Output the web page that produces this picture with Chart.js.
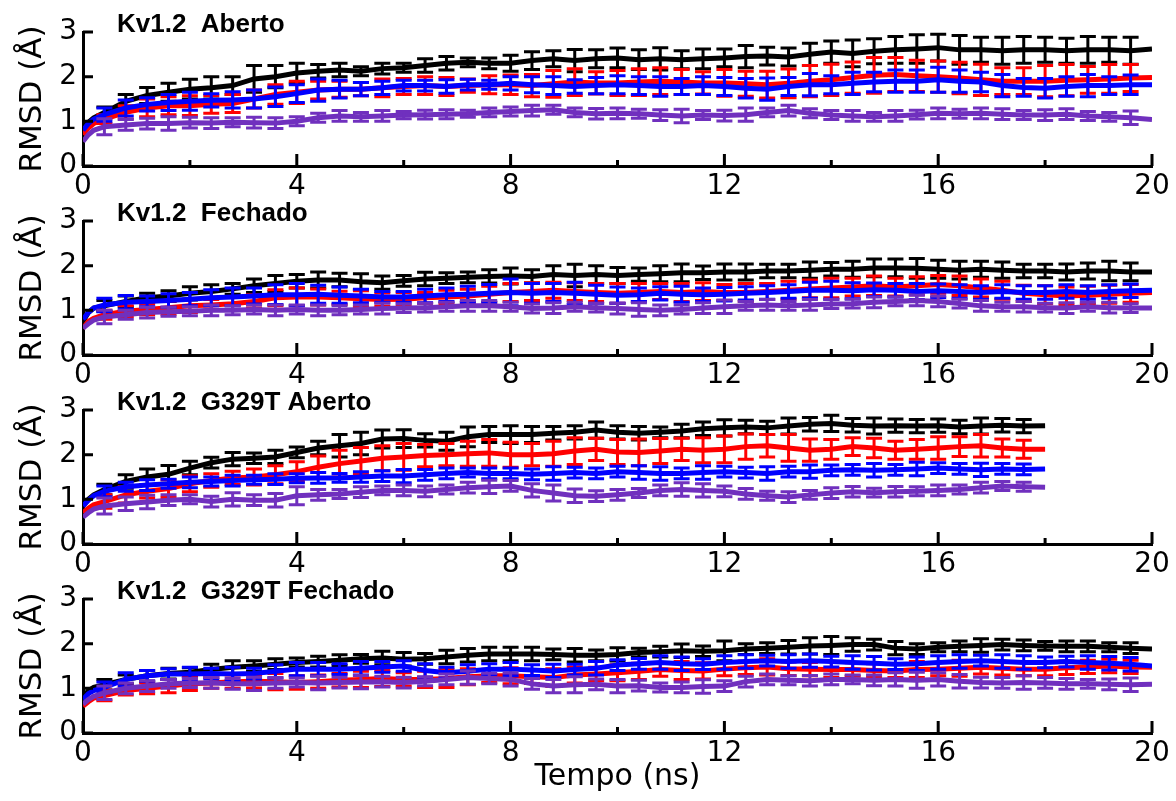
<!DOCTYPE html>
<html>
<head>
<meta charset="utf-8">
<script src="https://cdn.jsdelivr.net/npm/chart.js@4"></script>
<style>
  body { margin: 0; background: #fff; }
  #wrap { position: relative; width: 1176px; height: 801px; overflow: hidden; }
  canvas { position: absolute; left: 0; }
</style>
</head>
<body>
<div id="wrap">
  <canvas id="p1" width="1176" height="210" style="top:0px"></canvas>
  <canvas id="p2" width="1176" height="210" style="top:189px"></canvas>
  <canvas id="p3" width="1176" height="210" style="top:378px"></canvas>
  <canvas id="p4" width="1176" height="234" style="top:567px"></canvas>
</div>
<script>
// time axis (ns): 0, 0.1, 0.2 then every 0.4 ns up to 20
const times = [0, 0.1, 0.2,
  0.4, 0.8, 1.2, 1.6, 2.0, 2.4, 2.8, 3.2, 3.6, 4.0,
  4.4, 4.8, 5.2, 5.6, 6.0, 6.4, 6.8, 7.2, 7.6, 8.0,
  8.4, 8.8, 9.2, 9.6, 10.0, 10.4, 10.8, 11.2, 11.6, 12.0,
  12.4, 12.8, 13.2, 13.6, 14.0, 14.4, 14.8, 15.2, 15.6, 16.0,
  16.4, 16.8, 17.2, 17.6, 18.0, 18.4, 18.8, 19.2, 19.6, 20.0];

const xTicks = [0, 4, 8, 12, 16, 20];
const yTicks = [0, 1, 2, 3];
const panelTitles = ["Kv1.2  Aberto", "Kv1.2  Fechado", "Kv1.2  G329T Aberto", "Kv1.2  G329T Fechado"];

// Panel 1: Kv1.2 Aberto
const p1Black = [0.85, 0.98, 1.08,
  1.2, 1.45, 1.58, 1.65, 1.72, 1.75, 1.8, 1.95, 2.0, 2.08,
  2.12, 2.15, 2.12, 2.18, 2.2, 2.25, 2.3, 2.32, 2.3, 2.3,
  2.36, 2.4, 2.36, 2.4, 2.42, 2.38, 2.4, 2.38, 2.4, 2.42,
  2.45, 2.46, 2.44, 2.5, 2.55, 2.52, 2.57, 2.6, 2.62, 2.65,
  2.6, 2.6, 2.58, 2.6, 2.6, 2.58, 2.6, 2.6, 2.58, 2.62];
const p1Red = [0.7, 0.85, 0.95,
  1.05, 1.2, 1.3, 1.35, 1.35, 1.38, 1.4, 1.5, 1.6, 1.65,
  1.7, 1.72, 1.72, 1.75, 1.78, 1.8, 1.78, 1.8, 1.82, 1.82,
  1.8, 1.84, 1.88, 1.86, 1.86, 1.88, 1.9, 1.88, 1.86, 1.86,
  1.84, 1.82, 1.85, 1.9, 1.93, 1.98, 2.03, 2.05, 2.02, 2.0,
  1.97, 1.93, 1.9, 1.9, 1.9, 1.92, 1.93, 1.95, 1.97, 1.98];
const p1Blue = [0.8, 0.95, 1.05,
  1.15, 1.3, 1.38, 1.42, 1.45, 1.47, 1.48, 1.5, 1.55, 1.62,
  1.7, 1.72, 1.72, 1.75, 1.8, 1.8, 1.78, 1.82, 1.82, 1.85,
  1.82, 1.8, 1.78, 1.8, 1.82, 1.8, 1.78, 1.78, 1.8, 1.78,
  1.74, 1.72, 1.78, 1.82, 1.82, 1.85, 1.88, 1.9, 1.9, 1.93,
  1.9, 1.88, 1.8, 1.76, 1.74, 1.78, 1.8, 1.8, 1.82, 1.82];
const p1Purple = [0.55, 0.7, 0.8,
  0.88, 0.92, 0.95, 0.95, 0.97, 0.96, 0.98, 0.97, 0.96, 1.0,
  1.08, 1.12, 1.1, 1.12, 1.14, 1.15, 1.16, 1.17, 1.2, 1.22,
  1.24, 1.26, 1.2, 1.17, 1.18, 1.17, 1.14, 1.12, 1.14, 1.13,
  1.15, 1.2, 1.24, 1.18, 1.14, 1.12, 1.1, 1.12, 1.15, 1.18,
  1.17, 1.18, 1.16, 1.14, 1.14, 1.16, 1.12, 1.1, 1.08, 1.04];
// error half-widths, one per 0.4 ns point
const p1BlackErr = [0.12, 0.15, 0.18, 0.2, 0.22, 0.25, 0.2, 0.3, 0.25, 0.22,
  0.15, 0.15, 0.1, 0.12, 0.1, 0.15, 0.15, 0.1, 0.12, 0.18,
  0.2, 0.18, 0.25, 0.2, 0.22, 0.22, 0.25, 0.2, 0.22, 0.2,
  0.25, 0.2, 0.2, 0.25, 0.25, 0.3, 0.28, 0.3, 0.32, 0.3,
  0.32, 0.28, 0.3, 0.3, 0.28, 0.28, 0.3, 0.28, 0.3, null];
const p1RedErr = [0.1, 0.15, 0.2, 0.2, 0.22, 0.2, 0.2, 0.2, 0.22, 0.25,
  0.2, 0.18, 0.15, 0.2, 0.18, 0.2, 0.2, 0.15, 0.2, 0.22,
  0.25, 0.3, 0.3, 0.25, 0.28, 0.3, 0.3, 0.28, 0.25, 0.3,
  0.28, 0.3, 0.32, 0.35, 0.35, 0.35, 0.4, 0.38, 0.35, 0.35,
  0.35, 0.35, 0.3, 0.3, 0.35, 0.35, 0.3, 0.32, 0.3, null];
const p1BlueErr = [0.15, 0.18, 0.15, 0.18, 0.2, 0.15, 0.18, 0.2, 0.22, 0.2,
  0.25, 0.2, 0.15, 0.15, 0.12, 0.12, 0.15, 0.12, 0.1, 0.15,
  0.18, 0.2, 0.15, 0.18, 0.2, 0.2, 0.22, 0.18, 0.2, 0.2,
  0.22, 0.25, 0.2, 0.25, 0.2, 0.25, 0.22, 0.25, 0.25, 0.28,
  0.25, 0.22, 0.25, 0.2, 0.22, 0.22, 0.25, 0.2, 0.22, null];
const p1PurpleErr = [0.18, 0.12, 0.12, 0.15, 0.12, 0.12, 0.1, 0.12, 0.12, 0.1,
  0.1, 0.12, 0.1, 0.12, 0.08, 0.1, 0.1, 0.08, 0.1, 0.1,
  0.12, 0.1, 0.1, 0.12, 0.12, 0.1, 0.12, 0.15, 0.1, 0.12,
  0.15, 0.1, 0.12, 0.1, 0.1, 0.12, 0.1, 0.12, 0.1, 0.12,
  0.1, 0.12, 0.12, 0.1, 0.12, 0.12, 0.1, 0.1, 0.15, null];

// Panel 2: Kv1.2 Fechado
const p2Black = [0.75, 0.95, 1.05,
  1.1, 1.2, 1.28, 1.32, 1.38, 1.42, 1.48, 1.55, 1.6, 1.65,
  1.68, 1.68, 1.64, 1.62, 1.66, 1.7, 1.72, 1.74, 1.76, 1.77,
  1.76, 1.8, 1.78, 1.8, 1.78, 1.8, 1.82, 1.84, 1.84, 1.86,
  1.86, 1.88, 1.88, 1.9, 1.92, 1.92, 1.95, 1.95, 1.94, 1.92,
  1.9, 1.92, 1.9, 1.88, 1.88, 1.86, 1.88, 1.88, 1.86, 1.86];
const p2Red = [0.6, 0.75, 0.82,
  0.9, 0.98, 1.02, 1.06, 1.1, 1.12, 1.15, 1.2, 1.28, 1.3,
  1.3, 1.28, 1.26, 1.24, 1.25, 1.28, 1.3, 1.32, 1.36, 1.4,
  1.42, 1.45, 1.42, 1.4, 1.38, 1.4, 1.42, 1.4, 1.42, 1.4,
  1.4, 1.42, 1.45, 1.48, 1.5, 1.52, 1.55, 1.52, 1.55, 1.58,
  1.55, 1.5, 1.45, 1.38, 1.35, 1.32, 1.34, 1.36, 1.38, 1.4];
const p2Blue = [0.8, 0.95, 1.05,
  1.12, 1.18, 1.2, 1.22, 1.25, 1.28, 1.3, 1.32, 1.35, 1.35,
  1.36, 1.34, 1.32, 1.3, 1.3, 1.32, 1.35, 1.36, 1.38, 1.4,
  1.38, 1.4, 1.38, 1.36, 1.34, 1.35, 1.38, 1.36, 1.35, 1.36,
  1.38, 1.4, 1.42, 1.45, 1.45, 1.44, 1.46, 1.45, 1.42, 1.44,
  1.42, 1.4, 1.42, 1.4, 1.4, 1.42, 1.4, 1.42, 1.44, 1.45];
const p2Purple = [0.6, 0.7, 0.78,
  0.85, 0.9, 0.95, 0.97, 0.98, 1.0, 1.0, 1.02, 1.0, 1.02,
  1.0, 1.0, 1.02, 1.04, 1.05, 1.06, 1.08, 1.1, 1.1, 1.08,
  1.04, 1.05, 1.08, 1.06, 1.04, 1.02, 1.0, 1.02, 1.05, 1.08,
  1.1, 1.12, 1.1, 1.12, 1.14, 1.15, 1.18, 1.2, 1.22, 1.2,
  1.15, 1.1, 1.08, 1.08, 1.06, 1.05, 1.08, 1.06, 1.05, 1.05];
const p2BlackErr = [0.12, 0.12, 0.1, 0.12, 0.15, 0.15, 0.12, 0.15, 0.18, 0.15,
  0.18, 0.15, 0.18, 0.15, 0.12, 0.15, 0.12, 0.12, 0.15, 0.18,
  0.15, 0.2, 0.25, 0.2, 0.18, 0.15, 0.18, 0.2, 0.15, 0.18,
  0.18, 0.15, 0.15, 0.18, 0.15, 0.18, 0.2, 0.2, 0.22, 0.2,
  0.2, 0.18, 0.18, 0.15, 0.15, 0.18, 0.18, 0.22, 0.2, null];
const p2RedErr = [0.1, 0.12, 0.12, 0.15, 0.15, 0.12, 0.15, 0.15, 0.18, 0.2,
  0.18, 0.15, 0.18, 0.15, 0.15, 0.12, 0.15, 0.15, 0.18, 0.2,
  0.2, 0.18, 0.2, 0.2, 0.22, 0.2, 0.18, 0.2, 0.2, 0.18,
  0.2, 0.18, 0.2, 0.2, 0.22, 0.2, 0.22, 0.2, 0.2, 0.2,
  0.22, 0.2, 0.2, 0.18, 0.2, 0.2, 0.2, 0.2, 0.2, null];
const p2BlueErr = [0.15, 0.15, 0.12, 0.15, 0.15, 0.18, 0.2, 0.18, 0.22, 0.25,
  0.2, 0.18, 0.15, 0.12, 0.12, 0.15, 0.15, 0.18, 0.2, 0.3,
  0.22, 0.2, 0.25, 0.2, 0.18, 0.15, 0.15, 0.18, 0.15, 0.15,
  0.15, 0.15, 0.15, 0.18, 0.2, 0.18, 0.15, 0.15, 0.18, 0.15,
  0.15, 0.15, 0.15, 0.15, 0.15, 0.15, 0.15, 0.15, 0.15, null];
const p2PurpleErr = [0.15, 0.1, 0.12, 0.1, 0.1, 0.12, 0.1, 0.1, 0.12, 0.1,
  0.12, 0.1, 0.1, 0.12, 0.1, 0.1, 0.1, 0.12, 0.12, 0.1,
  0.1, 0.12, 0.1, 0.1, 0.12, 0.15, 0.12, 0.1, 0.12, 0.15,
  0.1, 0.12, 0.1, 0.12, 0.1, 0.1, 0.12, 0.1, 0.12, 0.12,
  0.1, 0.12, 0.1, 0.12, 0.1, 0.12, 0.1, 0.12, 0.1, null];

// Panel 3: Kv1.2 G329T Aberto (ends at 18 ns)
const p3Black = [0.85, 1.0, 1.1,
  1.22, 1.4, 1.5, 1.56, 1.7, 1.82, 1.9, 1.92, 1.95, 2.05,
  2.15, 2.2, 2.25, 2.35, 2.36, 2.32, 2.3, 2.4, 2.45, 2.45,
  2.45, 2.48, 2.5, 2.55, 2.5, 2.48, 2.5, 2.53, 2.58, 2.6,
  2.62, 2.6, 2.64, 2.68, 2.7, 2.66, 2.64, 2.65, 2.64, 2.65,
  2.62, 2.64, 2.66, 2.64, 2.65];
const p3Red = [0.7, 0.8, 0.88,
  0.95, 1.1, 1.18, 1.24, 1.35, 1.42, 1.48, 1.5, 1.55, 1.62,
  1.72, 1.8, 1.86, 1.92, 1.95, 1.98, 2.0, 2.02, 2.04, 2.0,
  2.0, 2.02, 2.08, 2.12, 2.06, 2.05, 2.08, 2.12, 2.1, 2.12,
  2.18, 2.2, 2.15, 2.1, 2.12, 2.18, 2.15, 2.1, 2.12, 2.15,
  2.18, 2.2, 2.15, 2.12, 2.12];
const p3Blue = [0.85, 0.98, 1.08,
  1.18, 1.28, 1.32, 1.35, 1.38, 1.4, 1.42, 1.44, 1.45, 1.47,
  1.48, 1.48, 1.5, 1.52, 1.52, 1.55, 1.58, 1.6, 1.58, 1.58,
  1.56, 1.58, 1.6, 1.58, 1.62, 1.6, 1.58, 1.58, 1.6, 1.62,
  1.6, 1.58, 1.62, 1.62, 1.65, 1.66, 1.65, 1.66, 1.68, 1.7,
  1.68, 1.66, 1.68, 1.67, 1.68];
const p3Purple = [0.6, 0.7, 0.78,
  0.85, 0.9, 0.94, 0.98, 1.0, 0.95, 1.0, 0.98, 0.98, 1.08,
  1.1, 1.12, 1.16, 1.2, 1.2, 1.18, 1.22, 1.26, 1.28, 1.3,
  1.2, 1.14, 1.08, 1.07, 1.1, 1.14, 1.2, 1.22, 1.2, 1.18,
  1.12, 1.08, 1.05, 1.1, 1.14, 1.17, 1.15, 1.17, 1.18, 1.2,
  1.22, 1.26, 1.3, 1.28, 1.27];
const p3BlackErr = [0.12, 0.15, 0.18, 0.2, 0.15, 0.12, 0.15, 0.12, 0.15, 0.12,
  0.15, 0.25, 0.25, 0.2, 0.2, 0.15, 0.2, 0.22, 0.18, 0.2,
  0.18, 0.15, 0.15, 0.18, 0.15, 0.15, 0.12, 0.15, 0.15, 0.18,
  0.15, 0.15, 0.18, 0.15, 0.18, 0.15, 0.18, 0.15, 0.15, 0.15,
  0.15, 0.18, 0.15, 0.15, null];
const p3RedErr = [0.15, 0.18, 0.15, 0.2, 0.18, 0.15, 0.15, 0.18, 0.2, 0.22,
  0.25, 0.3, 0.3, 0.28, 0.3, 0.25, 0.25, 0.28, 0.3, 0.28,
  0.25, 0.28, 0.3, 0.25, 0.28, 0.3, 0.28, 0.25, 0.28, 0.3,
  0.28, 0.25, 0.3, 0.25, 0.22, 0.2, 0.22, 0.2, 0.22, 0.25,
  0.22, 0.25, 0.2, 0.2, null];
const p3BlueErr = [0.12, 0.1, 0.12, 0.1, 0.12, 0.1, 0.12, 0.1, 0.12, 0.1,
  0.12, 0.1, 0.12, 0.12, 0.15, 0.12, 0.12, 0.1, 0.12, 0.12,
  0.12, 0.15, 0.12, 0.12, 0.12, 0.15, 0.15, 0.12, 0.15, 0.12,
  0.12, 0.15, 0.12, 0.15, 0.12, 0.12, 0.15, 0.12, 0.15, 0.12,
  0.12, 0.15, 0.12, 0.12, null];
const p3PurpleErr = [0.18, 0.15, 0.15, 0.12, 0.1, 0.12, 0.15, 0.12, 0.15, 0.2,
  0.12, 0.1, 0.12, 0.1, 0.12, 0.12, 0.1, 0.12, 0.15, 0.12,
  0.15, 0.18, 0.15, 0.12, 0.12, 0.1, 0.12, 0.15, 0.15, 0.12,
  0.12, 0.1, 0.12, 0.1, 0.12, 0.12, 0.1, 0.12, 0.1, 0.12,
  0.1, 0.12, 0.1, 0.1, null];

// Panel 4: Kv1.2 G329T Fechado
const p4Black = [0.8, 0.95, 1.02,
  1.08, 1.2, 1.28, 1.33, 1.36, 1.42, 1.47, 1.5, 1.54, 1.58,
  1.6, 1.63, 1.66, 1.68, 1.65, 1.66, 1.7, 1.74, 1.77, 1.77,
  1.77, 1.76, 1.74, 1.74, 1.76, 1.8, 1.82, 1.84, 1.83, 1.84,
  1.88, 1.9, 1.92, 1.95, 1.96, 1.98, 1.98, 1.9, 1.88, 1.92,
  1.94, 1.96, 1.98, 1.96, 1.95, 1.94, 1.94, 1.92, 1.9, 1.88];
const p4Red = [0.6, 0.7, 0.78,
  0.84, 0.95, 1.0, 1.05, 1.1, 1.12, 1.15, 1.16, 1.15, 1.13,
  1.15, 1.18, 1.2, 1.22, 1.2, 1.2, 1.22, 1.26, 1.28, 1.28,
  1.26, 1.24, 1.3, 1.32, 1.35, 1.38, 1.42, 1.4, 1.39, 1.43,
  1.46, 1.48, 1.44, 1.43, 1.42, 1.42, 1.4, 1.39, 1.42, 1.43,
  1.45, 1.47, 1.45, 1.43, 1.43, 1.46, 1.48, 1.5, 1.48, 1.47];
const p4Blue = [0.75, 0.88, 0.95,
  1.02, 1.2, 1.28, 1.32, 1.32, 1.33, 1.32, 1.33, 1.38, 1.43,
  1.43, 1.43, 1.45, 1.48, 1.5, 1.4, 1.35, 1.38, 1.43, 1.43,
  1.41, 1.39, 1.42, 1.45, 1.52, 1.55, 1.58, 1.55, 1.54, 1.58,
  1.6, 1.62, 1.6, 1.62, 1.6, 1.58, 1.56, 1.54, 1.55, 1.58,
  1.6, 1.62, 1.6, 1.58, 1.58, 1.6, 1.58, 1.56, 1.54, 1.5];
const p4Purple = [0.65, 0.75, 0.82,
  0.9, 1.0, 1.05, 1.1, 1.12, 1.12, 1.1, 1.1, 1.12, 1.13,
  1.12, 1.13, 1.14, 1.15, 1.13, 1.16, 1.2, 1.24, 1.22, 1.2,
  1.1, 1.05, 1.08, 1.09, 1.05, 1.06, 1.02, 1.02, 1.04, 1.05,
  1.15, 1.2, 1.18, 1.17, 1.2, 1.2, 1.18, 1.2, 1.18, 1.2,
  1.16, 1.13, 1.12, 1.13, 1.12, 1.1, 1.1, 1.09, 1.08, 1.09];
const p4BlackErr = [0.12, 0.1, 0.12, 0.12, 0.1, 0.12, 0.15, 0.12, 0.12, 0.1,
  0.12, 0.12, 0.1, 0.15, 0.15, 0.12, 0.15, 0.15, 0.15, 0.15,
  0.15, 0.12, 0.15, 0.12, 0.15, 0.1, 0.12, 0.15, 0.12, 0.22,
  0.12, 0.12, 0.15, 0.18, 0.2, 0.15, 0.12, 0.15, 0.12, 0.1,
  0.12, 0.15, 0.12, 0.12, 0.1, 0.12, 0.12, 0.1, 0.12, null];
const p4RedErr = [0.12, 0.1, 0.12, 0.15, 0.15, 0.12, 0.15, 0.15, 0.18, 0.15,
  0.15, 0.15, 0.18, 0.18, 0.15, 0.18, 0.2, 0.18, 0.15, 0.18,
  0.15, 0.2, 0.18, 0.15, 0.18, 0.18, 0.15, 0.2, 0.18, 0.15,
  0.15, 0.18, 0.15, 0.15, 0.18, 0.15, 0.15, 0.15, 0.18, 0.15,
  0.18, 0.15, 0.15, 0.15, 0.15, 0.15, 0.15, 0.15, 0.15, null];
const p4BlueErr = [0.12, 0.15, 0.12, 0.12, 0.15, 0.12, 0.15, 0.12, 0.15, 0.15,
  0.15, 0.12, 0.15, 0.12, 0.12, 0.15, 0.12, 0.15, 0.12, 0.15,
  0.12, 0.15, 0.12, 0.15, 0.12, 0.12, 0.15, 0.15, 0.12, 0.15,
  0.15, 0.12, 0.15, 0.15, 0.12, 0.15, 0.15, 0.12, 0.15, 0.15,
  0.15, 0.12, 0.15, 0.15, 0.12, 0.12, 0.15, 0.15, 0.15, null];
const p4PurpleErr = [0.15, 0.12, 0.12, 0.1, 0.1, 0.12, 0.12, 0.15, 0.12, 0.1,
  0.15, 0.12, 0.15, 0.12, 0.12, 0.1, 0.12, 0.15, 0.12, 0.15,
  0.12, 0.15, 0.18, 0.12, 0.15, 0.12, 0.1, 0.12, 0.15, 0.12,
  0.12, 0.12, 0.1, 0.12, 0.12, 0.1, 0.12, 0.15, 0.18, 0.15,
  0.15, 0.12, 0.12, 0.15, 0.12, 0.12, 0.1, 0.12, 0.15, null];

const colors = { black: "#000000", red: "#ff0000", blue: "#0000ff", purple: "#7030be" };

// Error bars drawn right after their own line, so the stacking matches
const errorBars = {
  id: "errorBars",
  afterDatasetDraw(chart, args) {
    const ds = chart.data.datasets[args.index];
    if (!ds.errors) return;
    const xs = chart.scales.x;
    const ys = chart.scales.y;
    const ctx = chart.ctx;
    ctx.save();
    ctx.strokeStyle = ds.borderColor;
    ctx.lineWidth = 3;
    ctx.beginPath();
    ds.data.forEach((p, i) => {
      const e = ds.errors[i];
      if (e == null) return;
      const px = xs.getPixelForValue(p.x);
      const top = ys.getPixelForValue(p.y + e);
      const bot = ys.getPixelForValue(p.y - e);
      ctx.moveTo(px, top);
      ctx.lineTo(px, bot);
      ctx.moveTo(px - 8, top);
      ctx.lineTo(px + 8, top);
      ctx.moveTo(px - 8, bot);
      ctx.lineTo(px + 8, bot);
    });
    ctx.stroke();
    ctx.restore();
  },
};

// Ticks point inward in the original, so draw them by hand
const innerTicks = {
  id: "innerTicks",
  afterDraw(chart) {
    const xs = chart.scales.x;
    const ys = chart.scales.y;
    const area = chart.chartArea;
    const ctx = chart.ctx;
    ctx.save();
    ctx.strokeStyle = "#000";
    ctx.lineWidth = 3;
    ctx.beginPath();
    xs.ticks.forEach((t) => {
      const px = xs.getPixelForValue(t.value);
      const len = xTicks.includes(t.value) ? 12 : 6;
      ctx.moveTo(px, area.bottom);
      ctx.lineTo(px, area.bottom - len);
    });
    ys.ticks.forEach((t) => {
      const py = ys.getPixelForValue(t.value);
      const len = yTicks.includes(t.value) ? 10 : 6;
      ctx.moveTo(area.left, py);
      ctx.lineTo(area.left + len, py);
    });
    ctx.stroke();
    ctx.restore();
  },
};

function pairs(values) {
  return values.map((v, i) => ({ x: times[i], y: v }));
}

function line(values, errs, color, order) {
  return {
    data: pairs(values),
    errors: [null, null, null].concat(errs),
    borderColor: color,
    backgroundColor: color,
    borderWidth: 5,
    pointRadius: 0,
    tension: 0,
    order: order,
  };
}

function makePanel(id, title, series, lastPanel) {
  const canvas = document.getElementById(id);
  const titlePlugin = {
    id: "panelTitle",
    afterDraw(chart) {
      const ctx = chart.ctx;
      ctx.save();
      ctx.font = "bold 26px 'Liberation Sans', Arial, sans-serif";
      ctx.fillStyle = "#000";
      ctx.textBaseline = "alphabetic";
      ctx.fillText(title, chart.chartArea.left + 34, chart.chartArea.top);
      ctx.restore();
    },
  };
  return new Chart(canvas, {
    type: "line",
    data: {
      datasets: [
        line(series[0], series[4], colors.black, 4),
        line(series[1], series[5], colors.red, 3),
        line(series[2], series[6], colors.blue, 2),
        line(series[3], series[7], colors.purple, 1),
      ],
    },
    options: {
      responsive: false,
      animation: false,
      events: [],
      layout: { padding: { top: 32, right: 24, left: 0, bottom: 0 } },
      scales: {
        x: {
          type: "linear",
          min: 0,
          max: 20,
          grid: { display: false, drawTicks: false },
          border: { display: true, color: "#000", width: 3 },
          ticks: {
            stepSize: 2,
            autoSkip: false,
            maxRotation: 0,
            padding: 4,
            color: "#000",
            font: { family: "'DejaVu Sans', sans-serif", size: 28 },
            callback: (v) => (xTicks.includes(v) ? String(v) : ""),
          },
          title: {
            display: lastPanel,
            text: "Tempo (ns)",
            color: "#000",
            font: { family: "'DejaVu Sans', sans-serif", size: 30 },
            padding: { top: 0, bottom: 6 },
          },
          afterFit: (s) => {
            s.height = lastPanel ? 68 : 44;
          },
        },
        y: {
          min: 0,
          max: 3,
          grid: { display: false, drawTicks: false },
          border: { display: true, color: "#000", width: 3 },
          ticks: {
            stepSize: 0.5,
            padding: 6,
            color: "#000",
            font: { family: "'DejaVu Sans', sans-serif", size: 28 },
            callback: (v) => (yTicks.includes(v) ? String(v) : ""),
          },
          title: {
            display: true,
            text: "RMSD (Å)",
            color: "#000",
            font: { family: "'DejaVu Sans', sans-serif", size: 31 },
            padding: { top: 14, bottom: 0 },
          },
          afterFit: (s) => {
            s.width = 83;
          },
        },
      },
      plugins: {
        legend: { display: false },
        tooltip: { enabled: false },
      },
    },
    plugins: [errorBars, innerTicks, titlePlugin],
  });
}

makePanel("p1", panelTitles[0],
  [p1Black, p1Red, p1Blue, p1Purple, p1BlackErr, p1RedErr, p1BlueErr, p1PurpleErr], false);
makePanel("p2", panelTitles[1],
  [p2Black, p2Red, p2Blue, p2Purple, p2BlackErr, p2RedErr, p2BlueErr, p2PurpleErr], false);
makePanel("p3", panelTitles[2],
  [p3Black, p3Red, p3Blue, p3Purple, p3BlackErr, p3RedErr, p3BlueErr, p3PurpleErr], false);
makePanel("p4", panelTitles[3],
  [p4Black, p4Red, p4Blue, p4Purple, p4BlackErr, p4RedErr, p4BlueErr, p4PurpleErr], true);
</script>
</body>
</html>
